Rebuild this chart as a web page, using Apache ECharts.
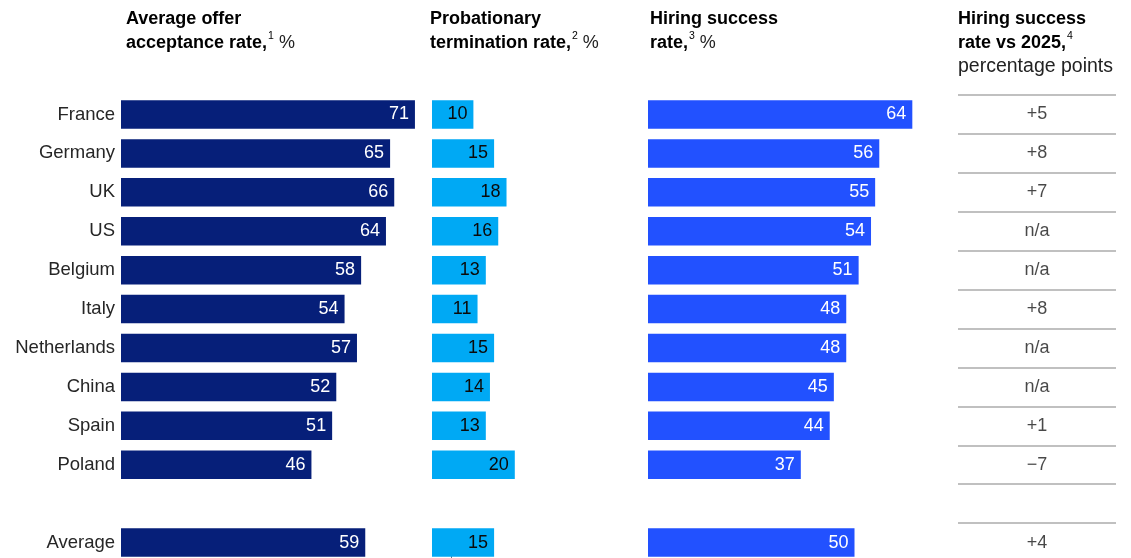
<!DOCTYPE html>
<html>
<head>
<meta charset="utf-8">
<title>Hiring metrics by country</title>
<script src="https://cdn.jsdelivr.net/npm/echarts@6/dist/echarts.min.js"></script>
<style>
  html, body { margin: 0; padding: 0; background: #fff; overflow: hidden; }
  #chart { width: 1131px; height: 570px; }
</style>
</head>
<body>
<div id="chart"></div>
<script>
// Rows from top to bottom; the empty entry is the spacer row before the average.
const countries = ['France', 'Germany', 'UK', 'US', 'Belgium', 'Italy', 'Netherlands', 'China', 'Spain', 'Poland', '', 'Average'];

// Average offer acceptance rate, %
const acceptanceRate = [71, 65, 66, 64, 58, 54, 57, 52, 51, 46, null, 59];
// Probationary termination rate, %
const terminationRate = [10, 15, 18, 16, 13, 11, 15, 14, 13, 20, null, 15];
// Hiring success rate, %
const hiringSuccess = [64, 56, 55, 54, 51, 48, 48, 45, 44, 37, null, 50];
// Hiring success rate vs 2025, percentage points (null = not available)
const changeVs2025 = [5, 8, 7, null, null, 8, null, null, 1, -7, undefined, 4];

const FONT = '"Liberation Sans", Arial, Helvetica, sans-serif';
const NAVY = '#061f79';
const CYAN = '#00a9f4';
const BLUE = '#2251ff';

const chart = echarts.init(document.getElementById('chart'), null, { renderer: 'canvas' });

const gridTop = 95;
const gridHeight = 467;

function fmtChange(v) {
  if (v === null) return 'n/a';
  if (v > 0) return '+' + v;
  if (v < 0) return '\u2212' + Math.abs(v);
  return '0';
}

const tableData = [];
countries.forEach((c, i) => {
  if (c === '') return;
  tableData.push({
    value: [0.5, i],
    label: { formatter: fmtChange(changeVs2025[i]) }
  });
});

function catAxis(idx, showLabels) {
  return {
    type: 'category',
    gridIndex: idx,
    data: countries,
    inverse: true,
    axisLine: { show: false },
    axisTick: { show: false },
    splitLine: idx === 3
      ? { show: true, interval: 0, lineStyle: { color: '#ababab', width: 1.5 } }
      : { show: false },
    axisLabel: showLabels
      ? { show: true, interval: 0, margin: 6, fontSize: 18.5, color: '#262626', fontFamily: FONT }
      : { show: false }
  };
}

function valAxis(idx, max) {
  return {
    type: 'value',
    gridIndex: idx,
    min: 0,
    max: max,
    show: false,
    splitLine: { show: false }
  };
}

function barSeries(idx, values, color, textColor) {
  return {
    type: 'bar',
    xAxisIndex: idx,
    yAxisIndex: idx,
    data: values.map(v => (v === null ? '-' : v)),
    barWidth: 28.5,
    itemStyle: { color: color },
    label: {
      show: true,
      position: 'insideRight',
      distance: 6,
      color: textColor,
      fontSize: 18,
      fontFamily: FONT
    },
    silent: true
  };
}

function header(x, lines) {
  return {
    type: 'text',
    left: x,
    top: 10,
    style: {
      text: lines,
      fontFamily: FONT,
      fill: '#000',
      rich: {
        b: { fontWeight: 'bold', fontSize: 18, lineHeight: 24, fontFamily: FONT, fill: '#000' },
        s: { fontSize: 10.5, lineHeight: 15, verticalAlign: 'top', fontFamily: FONT, fill: '#000', padding: [0, 0, 0, 1] },
        r: { fontSize: 18, lineHeight: 24, fontFamily: FONT, fill: '#222' },
        u: { fontSize: 19.5, lineHeight: 24, fontFamily: FONT, fill: '#222' }
      }
    }
  };
}

const option = {
  animation: false,
  textStyle: { fontFamily: FONT },
  grid: [
    { left: 121, top: gridTop, width: 414, height: gridHeight },
    { left: 432, top: gridTop, width: 414, height: gridHeight },
    { left: 648, top: gridTop, width: 413, height: gridHeight },
    { left: 958, top: gridTop, width: 158, height: gridHeight }
  ],
  xAxis: [valAxis(0, 100), valAxis(1, 100), valAxis(2, 100), valAxis(3, 1)],
  yAxis: [catAxis(0, true), catAxis(1, false), catAxis(2, false), catAxis(3, false)],
  series: [
    barSeries(0, acceptanceRate, NAVY, '#ffffff'),
    barSeries(1, terminationRate, CYAN, '#0a0a0a'),
    barSeries(2, hiringSuccess, BLUE, '#ffffff'),
    {
      type: 'scatter',
      xAxisIndex: 3,
      yAxisIndex: 3,
      data: tableData,
      symbol: 'circle',
      symbolSize: 1,
      itemStyle: { color: 'rgba(0,0,0,0)' },
      label: {
        show: true,
        position: 'inside',
        color: '#1a1a1a',
        fontSize: 18,
        fontFamily: FONT
      },
      silent: true
    }
  ],
  graphic: [
    header(126, '{b|Average offer}\n{b|acceptance rate,}{s|1}{r| %}'),
    header(430, '{b|Probationary}\n{b|termination rate,}{s|2}{r| %}'),
    header(650, '{b|Hiring success}\n{b|rate,}{s|3}{r| %}'),
    header(958, '{b|Hiring success}\n{b|rate vs 2025,}{s|4}\n{u|percentage points}'),
    {
      type: 'line',
      shape: { x1: 451.5, y1: 550, x2: 451.5, y2: 558 },
      style: { stroke: '#5a7a8c', lineWidth: 1 },
      silent: true
    }
  ]
};

chart.setOption(option);
</script>
</body>
</html>
